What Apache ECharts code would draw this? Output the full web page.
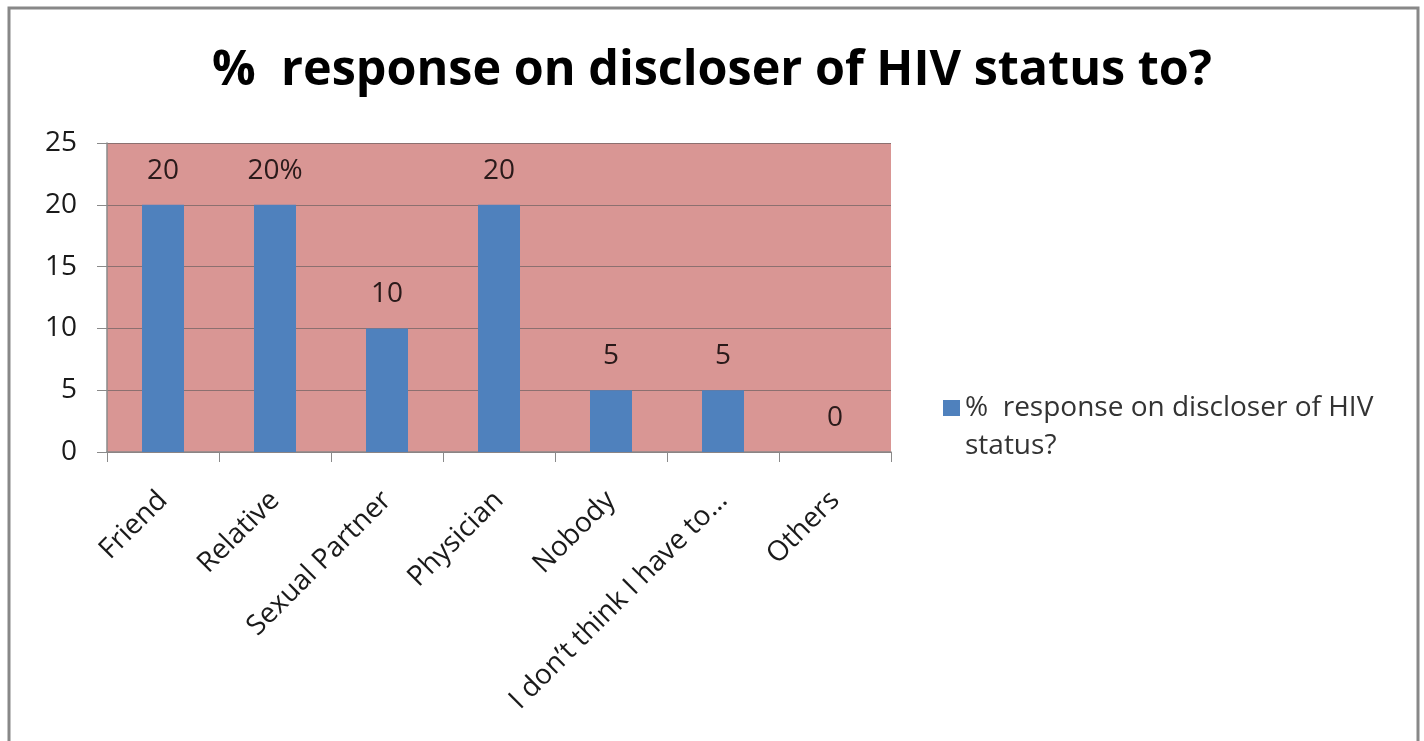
<!DOCTYPE html>
<html>
<head>
<meta charset="utf-8">
<style>
  html, body { margin: 0; padding: 0; background: #ffffff; }
  #chart { width: 1424px; height: 741px; }
</style>
<script src="https://cdn.jsdelivr.net/npm/echarts@6/dist/echarts.min.js"></script>
</head>
<body>
<div id="chart"></div>
<script>
// Who respondents said they disclose their HIV status to (percent)
const categories = ['Friend', 'Relative', 'Sexual Partner', 'Physician', 'Nobody', 'I don\u2019t think I have to\u2026', 'Others'];
const values = [20, 20, 10, 20, 5, 5, 0];
const labelSuffix = ['', '%', '', '', '', '', ''];
const yTicks = [0, 5, 10, 15, 20, 25];
const seriesName = '%  response on discloser of HIV status?';
const titleText = '%  response on discloser of HIV status to?';

const textFont = '"Open Sans", Lato, sans-serif';
const chart = echarts.init(document.getElementById('chart'), null, { renderer: 'canvas' });

chart.setOption({
  backgroundColor: '#ffffff',
  animation: false,
  title: {
    text: titleText,
    left: 'center',
    top: 42,
    textStyle: { fontFamily: textFont, fontWeight: 'bold', fontSize: 48.5, color: '#000000' }
  },
  legend: {
    left: 938,
    top: 384,
    orient: 'vertical',
    itemWidth: 17,
    itemHeight: 54,
    itemGap: 0,
    icon: 'path://M0,0H17V16H0Z M0,54H17',
    formatter: () => '%  response on discloser of HIV\nstatus?',
    textStyle: { fontFamily: textFont, fontSize: 28, color: '#333333', lineHeight: 38 }
  },
  grid: {
    left: 107, right: 533, top: 143, bottom: 289,
    show: true, backgroundColor: '#D99694', borderWidth: 0
  },
  xAxis: {
    type: 'category',
    data: categories,
    boundaryGap: true,
    axisLine: { lineStyle: { color: '#8a8a8a', width: 1.5 } },
    axisTick: { show: true, length: 10, alignWithLabel: false, lineStyle: { color: '#8a8a8a' } },
    axisLabel: {
      rotate: 45, interval: 0, margin: 44,
      fontFamily: textFont, fontSize: 28, color: '#1a1a1a'
    }
  },
  yAxis: {
    type: 'value',
    min: yTicks[0],
    max: yTicks[yTicks.length - 1],
    interval: yTicks[1] - yTicks[0],
    axisLine: { show: true, lineStyle: { color: '#8a8a8a', width: 1.5 } },
    axisTick: { show: true, length: 10, lineStyle: { color: '#8a8a8a' } },
    axisLabel: { margin: 30, fontFamily: textFont, fontSize: 28, color: '#1a1a1a' },
    splitLine: { lineStyle: { color: '#8c7070', width: 1.2 } }
  },
  series: [{
    name: seriesName,
    type: 'bar',
    data: values,
    barWidth: 42,
    itemStyle: { color: '#4F81BD' },
    label: {
      show: true,
      position: 'top',
      distance: 20,
      fontFamily: textFont,
      fontSize: 28,
      color: '#2a1a1a',
      formatter: p => p.value + labelSuffix[p.dataIndex]
    }
  }],
  graphic: [{
    type: 'polyline',
    silent: true,
    shape: { points: [[9, 741], [9, 8], [1418, 8], [1418, 741]] },
    style: { stroke: '#888888', lineWidth: 3, fill: null }
  }]
});
</script>
</body>
</html>
